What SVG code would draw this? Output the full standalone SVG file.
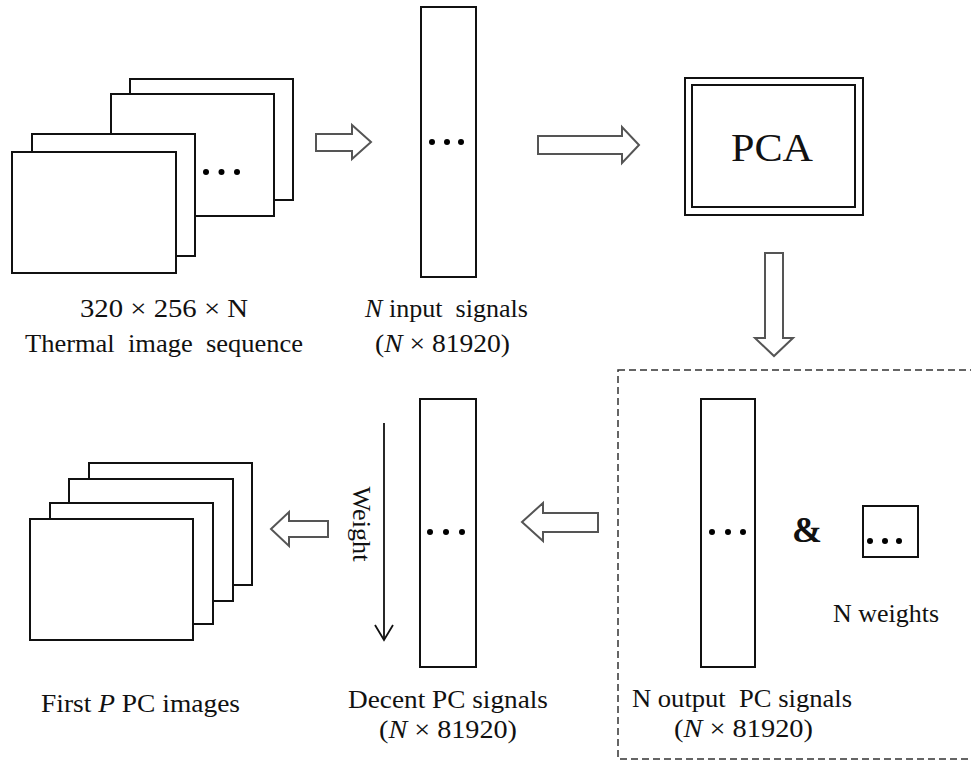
<svg xmlns="http://www.w3.org/2000/svg" width="971" height="765" viewBox="0 0 971 765">
<style>
.box{fill:#fff;stroke:#111;stroke-width:2}
.blk{fill:none;stroke:#555;stroke-width:2;stroke-linejoin:miter}
.dot{fill:#000}
.t{font-family:"Liberation Serif","Times New Roman",serif;font-size:26px;fill:#111;white-space:pre}
.i{font-style:italic}
</style>
<rect width="971" height="765" fill="#fff"/>
<g id="thermal-sequence">
<rect class="box" x="130" y="79" width="163" height="121"/>
<rect class="box" x="111" y="94" width="163" height="122"/>
<rect class="box" x="32" y="134" width="163" height="122"/>
<rect class="box" x="12" y="152" width="164" height="121"/>
<circle class="dot" cx="206" cy="172" r="3"/><circle class="dot" cx="221.5" cy="172" r="3"/><circle class="dot" cx="237" cy="172" r="3"/>
<text class="t" x="164" y="317" text-anchor="middle" textLength="168" lengthAdjust="spacingAndGlyphs">320 × 256 × N</text>
<text class="t" x="164" y="352" text-anchor="middle" textLength="278" lengthAdjust="spacingAndGlyphs">Thermal  image  sequence</text>
</g>
<g id="input-signals">
<rect class="box" x="421" y="7" width="55" height="270"/>
<circle class="dot" cx="432" cy="142" r="3"/><circle class="dot" cx="447" cy="142" r="3"/><circle class="dot" cx="461" cy="142" r="3"/>
<text class="t" x="446.5" y="317" text-anchor="middle" textLength="163" lengthAdjust="spacingAndGlyphs"><tspan class="i">N</tspan> input  signals</text>
<text class="t" x="442.5" y="352" text-anchor="middle" textLength="135" lengthAdjust="spacingAndGlyphs">(<tspan class="i">N</tspan> × 81920)</text>
</g>
<g id="pca">
<rect class="box" x="685" y="78" width="178" height="137"/>
<rect class="box" x="692" y="85" width="163" height="122"/>
<text class="t" x="772" y="161" text-anchor="middle" style="font-size:41px" textLength="82" lengthAdjust="spacingAndGlyphs">PCA</text>
</g>
<g id="output-group">
<rect x="618" y="370" width="360" height="389" fill="none" stroke="#333" stroke-width="1.5" stroke-dasharray="7,4"/>
<rect class="box" x="701" y="399" width="54" height="268"/>
<circle class="dot" cx="712" cy="532" r="3"/><circle class="dot" cx="728" cy="532" r="3"/><circle class="dot" cx="743" cy="532" r="3"/>
<text class="t" x="807" y="542" text-anchor="middle" style="font-size:36px;font-weight:bold">&amp;</text>
<rect class="box" x="863" y="506" width="55" height="51"/>
<circle class="dot" cx="870" cy="541" r="3"/><circle class="dot" cx="885" cy="541" r="3"/><circle class="dot" cx="899" cy="541" r="3"/>
<text class="t" x="886" y="622" text-anchor="middle" textLength="106" lengthAdjust="spacingAndGlyphs">N weights</text>
<text class="t" x="742" y="707" text-anchor="middle" textLength="220" lengthAdjust="spacingAndGlyphs">N output  PC signals</text>
<text class="t" x="743.5" y="737" text-anchor="middle" textLength="139" lengthAdjust="spacingAndGlyphs">(<tspan class="i">N</tspan> × 81920)</text>
</g>
<g id="decent-signals">
<rect class="box" x="420" y="399" width="56" height="268"/>
<circle class="dot" cx="430" cy="532" r="3"/><circle class="dot" cx="446" cy="532" r="3"/><circle class="dot" cx="462" cy="532" r="3"/>
<text class="t" x="448" y="708" text-anchor="middle" textLength="200" lengthAdjust="spacingAndGlyphs">Decent PC signals</text>
<text class="t" x="448" y="738" text-anchor="middle" textLength="138" lengthAdjust="spacingAndGlyphs">(<tspan class="i">N</tspan> × 81920)</text>
</g>
<g id="pc-images">
<rect class="box" x="89" y="463" width="163" height="122"/>
<rect class="box" x="69" y="479" width="164" height="122"/>
<rect class="box" x="50" y="503" width="163" height="121"/>
<rect class="box" x="30" y="519" width="163" height="121"/>
<text class="t" x="140.5" y="712" text-anchor="middle" textLength="199" lengthAdjust="spacingAndGlyphs">First <tspan class="i">P</tspan> PC images</text>
</g>
<g id="connectors">
<polygon class="blk" points="316,134 352,134 352,125 371,142 352,159 352,151 316,151"/>
<polygon class="blk" points="538,136 622,136 622,127 639,145 622,163 622,154 538,154"/>
<polygon class="blk" points="765,253 783,253 783,338 793,338 774,356 755,338 765,338"/>
<polygon class="blk" points="522,522 543,503 543,513 598,513 598,532 543,532 543,541"/>
<polygon class="blk" points="271,529 289,512 289,521 328,521 328,537 289,537 289,546"/>
<g id="weight-arrow">
<line x1="384" y1="423" x2="384" y2="640" stroke="#111" stroke-width="1.8"/>
<polyline points="375,625 384,640 393,625" fill="none" stroke="#111" stroke-width="1.8"/>
<text class="t" transform="translate(353,524) rotate(90)" text-anchor="middle" textLength="75" lengthAdjust="spacingAndGlyphs">Weight</text>
</g>
</g>
</svg>
